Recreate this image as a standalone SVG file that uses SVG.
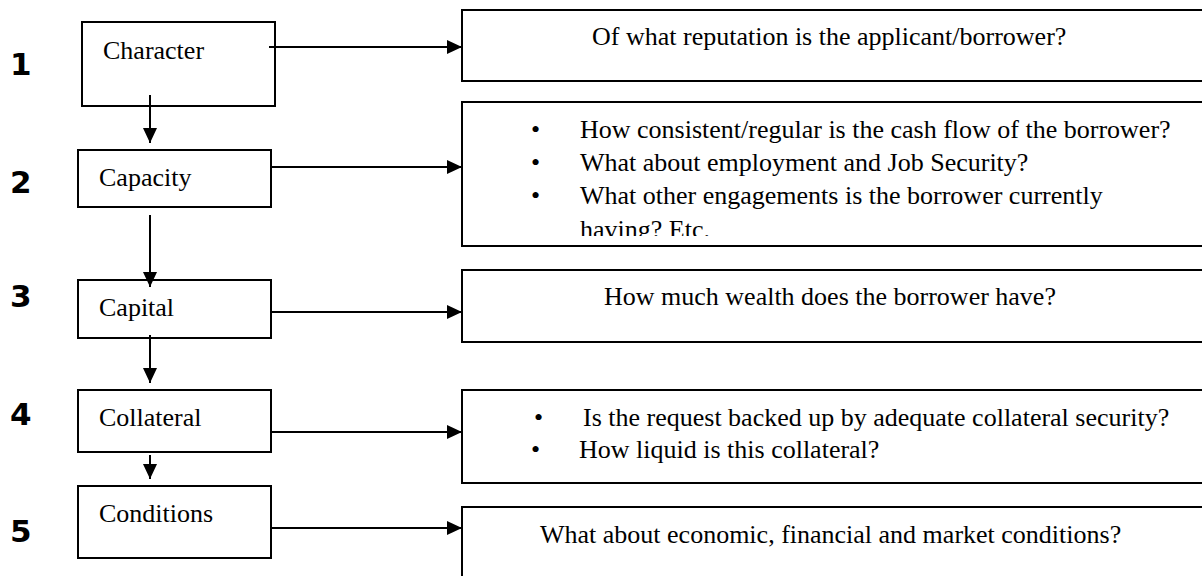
<svg xmlns="http://www.w3.org/2000/svg" width="1202" height="576" viewBox="0 0 1202 576">
<style>
.box{fill:#fff;stroke:#000;stroke-width:2}
.t{font-family:"Liberation Serif","Tinos","Times New Roman","DejaVu Serif",serif;font-size:26px;fill:#000}
.n{font-family:"DejaVu Sans",Verdana,sans-serif;font-weight:bold;font-size:31px;fill:#000}
.c{stroke:#000;stroke-width:2;fill:none;marker-end:url(#ah)}
</style>
<defs>
<marker id="ah" markerUnits="userSpaceOnUse" markerWidth="15" markerHeight="14" refX="15" refY="7" orient="auto">
<path d="M0,0 L15,7 L0,14 z" fill="#000"/>
</marker>
<clipPath id="clip2"><rect x="462" y="102" width="760" height="134"/></clipPath>
</defs>
<rect width="1202" height="576" fill="#fff"/>
<g id="numbers">
<text class="n" x="10" y="75">1</text>
<text class="n" x="10" y="193">2</text>
<text class="n" x="10" y="307">3</text>
<text class="n" x="10" y="425">4</text>
<text class="n" x="10" y="542">5</text>
</g>
<g id="character"><rect class="box" x="82" y="22" width="193" height="84"/><text class="t" x="103" y="59">Character</text></g>
<g id="capacity"><rect class="box" x="78" y="150" width="193" height="57"/><text class="t" x="99" y="186">Capacity</text></g>
<g id="capital"><rect class="box" x="78" y="280" width="193" height="58"/><text class="t" x="99" y="316">Capital</text></g>
<g id="collateral"><rect class="box" x="78" y="390" width="193" height="62"/><text class="t" x="99" y="426">Collateral</text></g>
<g id="conditions"><rect class="box" x="78" y="486" width="193" height="72"/><text class="t" x="99" y="522">Conditions</text></g>
<g id="q-character"><rect class="box" x="462" y="10" width="760" height="71"/><text class="t" x="592" y="45">Of what reputation is the applicant/borrower?</text></g>
<g id="q-capacity"><rect class="box" x="462" y="102" width="760" height="144"/>
<g clip-path="url(#clip2)">
<text class="t" x="531" y="138">•</text><text class="t" x="580" y="138">How consistent/regular is the cash flow of the borrower?</text>
<text class="t" x="531" y="171">•</text><text class="t" x="580" y="171">What about employment and Job Security?</text>
<text class="t" x="531" y="204">•</text><text class="t" x="580" y="204">What other engagements is the borrower currently</text>
<text class="t" x="580" y="238">having? Etc.</text>
</g></g>
<g id="q-capital"><rect class="box" x="462" y="270" width="760" height="72"/><text class="t" x="604" y="305">How much wealth does the borrower have?</text></g>
<g id="q-collateral"><rect class="box" x="462" y="390" width="760" height="93"/>
<text class="t" x="534" y="426">•</text><text class="t" x="583" y="426">Is the request backed up by adequate collateral security?</text>
<text class="t" x="531" y="458">•</text><text class="t" x="579" y="458">How liquid is this collateral?</text>
</g>
<g id="q-conditions"><rect class="box" x="462" y="507" width="760" height="100"/><text class="t" x="540" y="543">What about economic, financial and market conditions?</text></g>
<g id="connectors">
<line class="c" x1="150" y1="95" x2="150" y2="143"/>
<line class="c" x1="150" y1="215" x2="150" y2="287"/>
<line class="c" x1="150" y1="335" x2="150" y2="383"/>
<line class="c" x1="150" y1="455" x2="150" y2="479"/>
<line class="c" x1="269" y1="47" x2="462" y2="47"/>
<line class="c" x1="271" y1="167" x2="462" y2="167"/>
<line class="c" x1="271" y1="312" x2="462" y2="312"/>
<line class="c" x1="271" y1="432" x2="462" y2="432"/>
<line class="c" x1="271" y1="528" x2="462" y2="528"/>
</g>
</svg>
